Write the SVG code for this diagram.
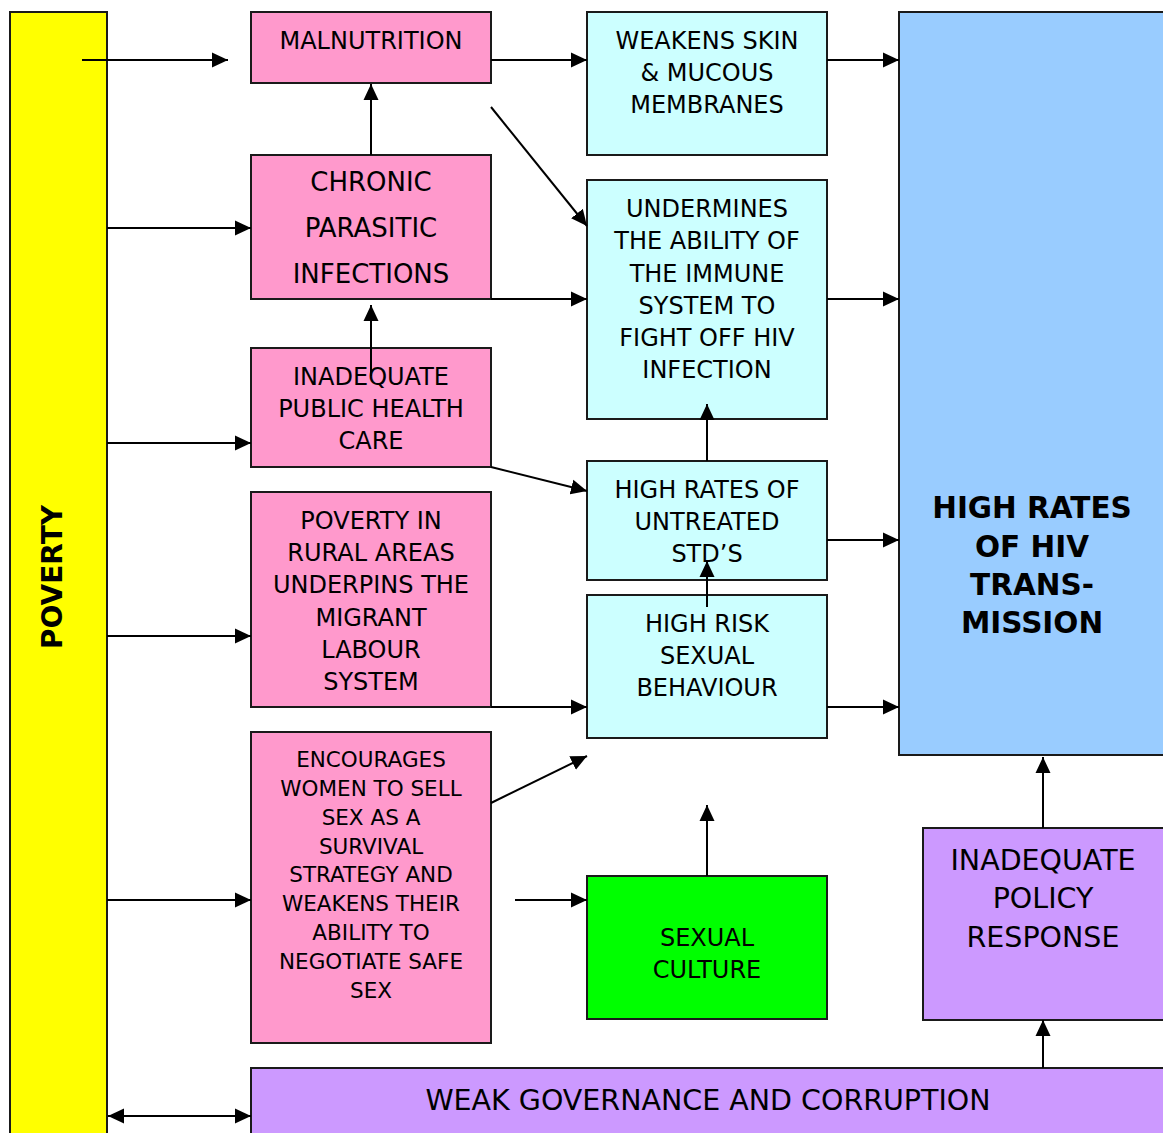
<svg xmlns="http://www.w3.org/2000/svg" width="1163" height="1133" viewBox="0 0 1163 1133">
<style>
.box{stroke:#1a1a1a;stroke-width:2}
.pink{fill:#FF99CC}
.cyan{fill:#CCFFFF}
.t{font-family:"DejaVu Sans",Verdana,sans-serif;font-size:24px;fill:#000;text-anchor:middle}
.c{stroke:#000;stroke-width:2;fill:none;marker-end:url(#ah)}
</style>
<defs>
<marker id="ah" markerUnits="userSpaceOnUse" markerWidth="17" markerHeight="16" refX="16" refY="8" orient="auto-start-reverse">
<path d="M0,0.5 L16,8 L0,15.5 z" fill="#000"/>
</marker>
</defs>
<rect width="1163" height="1133" fill="#fff"/>
<g id="poverty">
<rect class="box" x="10" y="12" width="97" height="1130" fill="#FFFF00"/>
<text class="t" style="font-size:28px;font-weight:bold" transform="translate(62,577) rotate(-90)">POVERTY</text>
</g>
<g id="malnutrition">
<rect class="box pink" x="251" y="12" width="240" height="71"/>
<text class="t" x="371" y="49">MALNUTRITION</text>
</g>
<g id="weakens-skin">
<rect class="box cyan" x="587" y="12" width="240" height="143"/>
<text class="t" x="707" y="49">WEAKENS SKIN</text>
<text class="t" x="707" y="81">&amp; MUCOUS</text>
<text class="t" x="707" y="113">MEMBRANES</text>
</g>
<g id="hiv">
<rect class="box" x="899" y="12" width="270" height="743" fill="#99CCFF"/>
<text class="t" style="font-size:29.5px;font-weight:bold" x="1032" y="518">HIGH RATES</text>
<text class="t" style="font-size:29.5px;font-weight:bold" x="1032" y="557">OF HIV</text>
<text class="t" style="font-size:29.5px;font-weight:bold" x="1032" y="595">TRANS-</text>
<text class="t" style="font-size:29.5px;font-weight:bold" x="1032" y="633">MISSION</text>
</g>
<g id="chronic">
<rect class="box pink" x="251" y="155" width="240" height="144"/>
<text class="t" style="font-size:26px" x="371" y="191">CHRONIC</text>
<text class="t" style="font-size:26px" x="371" y="237">PARASITIC</text>
<text class="t" style="font-size:26px" x="371" y="283">INFECTIONS</text>
</g>
<g id="undermines">
<rect class="box cyan" x="587" y="180" width="240" height="239"/>
<text class="t" x="707" y="217">UNDERMINES</text>
<text class="t" x="707" y="249">THE ABILITY OF</text>
<text class="t" x="707" y="282">THE IMMUNE</text>
<text class="t" x="707" y="314">SYSTEM TO</text>
<text class="t" x="707" y="346">FIGHT OFF HIV</text>
<text class="t" x="707" y="378">INFECTION</text>
</g>
<g id="public-health">
<rect class="box pink" x="251" y="348" width="240" height="119"/>
<text class="t" x="371" y="385">INADEQUATE</text>
<text class="t" x="371" y="417">PUBLIC HEALTH</text>
<text class="t" x="371" y="449">CARE</text>
</g>
<g id="std">
<rect class="box cyan" x="587" y="461" width="240" height="119"/>
<text class="t" x="707" y="498">HIGH RATES OF</text>
<text class="t" x="707" y="530">UNTREATED</text>
<text class="t" x="707" y="562">STD’S</text>
</g>
<g id="rural">
<rect class="box pink" x="251" y="492" width="240" height="215"/>
<text class="t" x="371" y="529">POVERTY IN</text>
<text class="t" x="371" y="561">RURAL AREAS</text>
<text class="t" x="371" y="593">UNDERPINS THE</text>
<text class="t" x="371" y="626">MIGRANT</text>
<text class="t" x="371" y="658">LABOUR</text>
<text class="t" x="371" y="690">SYSTEM</text>
</g>
<g id="high-risk">
<rect class="box cyan" x="587" y="595" width="240" height="143"/>
<text class="t" x="707" y="632">HIGH RISK</text>
<text class="t" x="707" y="664">SEXUAL</text>
<text class="t" x="707" y="696">BEHAVIOUR</text>
</g>
<g id="encourages">
<rect class="box pink" x="251" y="732" width="240" height="311"/>
<text class="t" style="font-size:21.5px" x="371" y="767">ENCOURAGES</text>
<text class="t" style="font-size:21.5px" x="371" y="796">WOMEN TO SELL</text>
<text class="t" style="font-size:21.5px" x="371" y="825">SEX AS A</text>
<text class="t" style="font-size:21.5px" x="371" y="854">SURVIVAL</text>
<text class="t" style="font-size:21.5px" x="371" y="882">STRATEGY AND</text>
<text class="t" style="font-size:21.5px" x="371" y="911">WEAKENS THEIR</text>
<text class="t" style="font-size:21.5px" x="371" y="940">ABILITY TO</text>
<text class="t" style="font-size:21.5px" x="371" y="969">NEGOTIATE SAFE</text>
<text class="t" style="font-size:21.5px" x="371" y="998">SEX</text>
</g>
<g id="sexual-culture">
<rect class="box" x="587" y="876" width="240" height="143" fill="#00FF00"/>
<text class="t" x="707" y="946">SEXUAL</text>
<text class="t" x="707" y="978">CULTURE</text>
</g>
<g id="policy">
<rect class="box" x="923" y="828" width="246" height="192" fill="#CC99FF"/>
<text class="t" style="font-size:28.5px" x="1043" y="870">INADEQUATE</text>
<text class="t" style="font-size:28.5px" x="1043" y="908">POLICY</text>
<text class="t" style="font-size:28.5px" x="1043" y="947">RESPONSE</text>
</g>
<g id="governance">
<rect class="box" x="251" y="1068" width="918" height="75" fill="#CC99FF"/>
<text class="t" style="font-size:28.5px" x="708" y="1110">WEAK GOVERNANCE AND CORRUPTION</text>
</g>
<g id="connectors">
<line class="c" x1="82" y1="60" x2="228" y2="60"/>
<line class="c" x1="491" y1="60" x2="587" y2="60"/>
<line class="c" x1="827" y1="60" x2="899" y2="60"/>
<line class="c" x1="371" y1="155" x2="371" y2="84"/>
<line class="c" x1="491" y1="107" x2="587" y2="226"/>
<line class="c" x1="107" y1="228" x2="251" y2="228"/>
<line class="c" x1="491" y1="299" x2="587" y2="299"/>
<line class="c" x1="827" y1="299" x2="899" y2="299"/>
<line class="c" x1="371" y1="376" x2="371" y2="305"/>
<line class="c" x1="107" y1="443" x2="251" y2="443"/>
<line class="c" x1="491" y1="467" x2="587" y2="491"/>
<line class="c" x1="707" y1="461" x2="707" y2="404"/>
<line class="c" x1="827" y1="540" x2="899" y2="540"/>
<line class="c" x1="707" y1="607" x2="707" y2="561"/>
<line class="c" x1="107" y1="636" x2="251" y2="636"/>
<line class="c" x1="491" y1="707" x2="587" y2="707"/>
<line class="c" x1="827" y1="707" x2="899" y2="707"/>
<line class="c" x1="491" y1="803" x2="587" y2="756"/>
<line class="c" x1="707" y1="876" x2="707" y2="805"/>
<line class="c" x1="515" y1="900" x2="587" y2="900"/>
<line class="c" x1="107" y1="900" x2="251" y2="900"/>
<line class="c" x1="1043" y1="828" x2="1043" y2="757"/>
<line class="c" x1="1043" y1="1068" x2="1043" y2="1020"/>
<line class="c" style="marker-start:url(#ah)" x1="108" y1="1116" x2="251" y2="1116"/>
</g>
</svg>
